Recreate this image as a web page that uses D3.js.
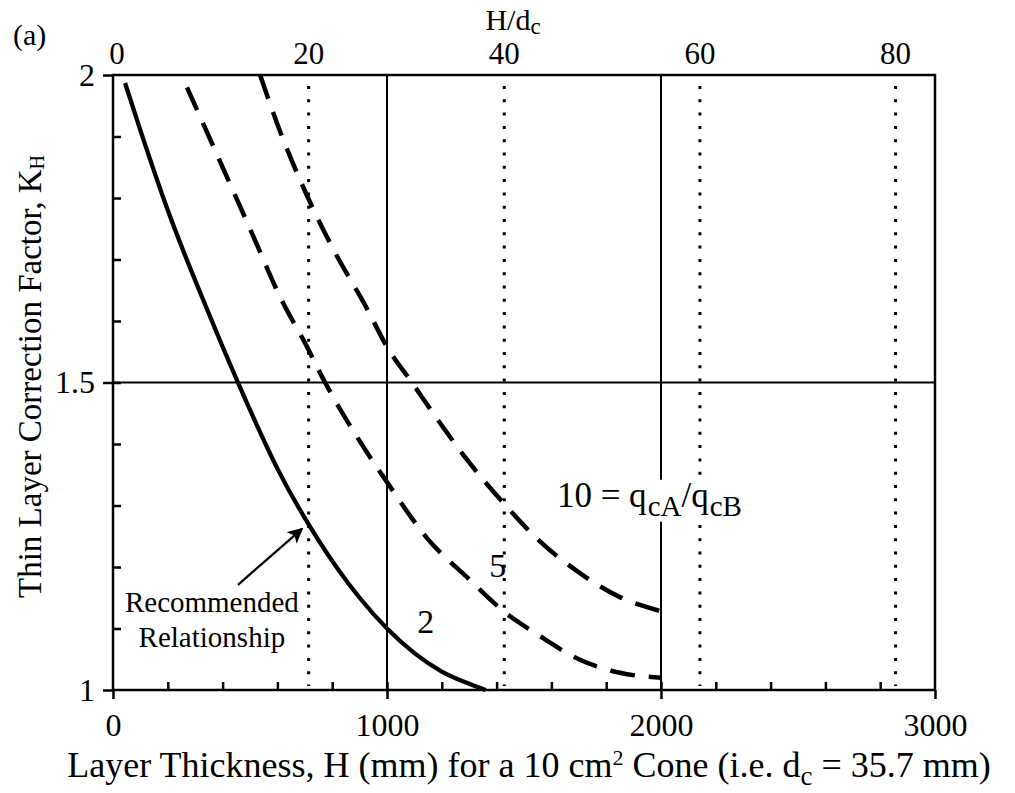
<!DOCTYPE html>
<html>
<head>
<meta charset="utf-8">
<script src="https://cdn.jsdelivr.net/npm/d3@7"></script>
<style>
	body { margin: 0; background: #fff; }
	text { font-family: "Liberation Serif", "Times New Roman", serif; fill: #000; }
</style>
</head>
<body>
<div id="chart-area"></div>
<script>
const MARGIN = { LEFT: 113, RIGHT: 80, TOP: 75, BOTTOM: 103 }
const WIDTH = 1015 - MARGIN.LEFT - MARGIN.RIGHT
const HEIGHT = 793 - MARGIN.TOP - MARGIN.BOTTOM

// curves: layer thickness H (mm) and K_H
const recH = [44, 100, 200, 347, 456, 600, 745, 900, 1000, 1100, 1200, 1300, 1360]
const recK = [1.987, 1.91, 1.78, 1.615, 1.5, 1.36, 1.247, 1.15, 1.1, 1.06, 1.03, 1.01, 1.0]
const ratio5H = [270, 400, 500, 620, 700, 774, 900, 1000, 1146, 1300, 1434, 1550, 1700, 1850, 2000]
const ratio5K = [1.98, 1.85, 1.75, 1.63, 1.565, 1.5, 1.405, 1.338, 1.247, 1.18, 1.125, 1.09, 1.05, 1.028, 1.02]
const ratio10H = [537, 600, 712, 800, 927, 1000, 1091, 1200, 1300, 1423, 1550, 1704, 1850, 2000]
const ratio10K = [2.0, 1.92, 1.8, 1.72, 1.62, 1.558, 1.5, 1.43, 1.37, 1.305, 1.245, 1.19, 1.151, 1.128]

// ticks
const xMajor = [0, 1000, 2000, 3000]
const yMajor = [1, 1.5, 2]
const yLabels = ["1", "1.5", "2"]
const topTicks = [0, 20, 40, 60, 80]
const DC = 35.7

// annotation positions (data units)
const labelRec = { H: 361, K: [1.127, 1.070], lines: ["Recommended", "Relationship"] }
const arrowFrom = [456, 1.171]
const arrowTo = [690, 1.262]
const label2 = [1110, 1.093]
const label5 = [1373, 1.184]
const label10 = [1620, 1.298]

const svg = d3.select("#chart-area").append("svg")
	.attr("width", 1015)
	.attr("height", 793)

const g = svg.append("g")
	.attr("transform", `translate(${MARGIN.LEFT}, ${MARGIN.TOP})`)

const x = d3.scaleLinear().domain([0, 3000]).range([0, WIDTH])
const y = d3.scaleLinear().domain([1, 2]).range([HEIGHT, 0])

// grid lines
g.selectAll(".vgrid").data([1000, 2000]).enter().append("line")
	.attr("x1", d => x(d)).attr("x2", d => x(d))
	.attr("y1", 0).attr("y2", HEIGHT)
	.attr("stroke", "#000").attr("stroke-width", 2)
g.append("line")
	.attr("x1", 0).attr("x2", WIDTH)
	.attr("y1", y(1.5)).attr("y2", y(1.5))
	.attr("stroke", "#000").attr("stroke-width", 2)

// dotted H/dc lines
g.selectAll(".dotted").data(topTicks.filter(d => d > 0)).enter().append("line")
	.attr("x1", d => x(d * DC)).attr("x2", d => x(d * DC))
	.attr("y1", 11).attr("y2", HEIGHT - 4)
	.attr("stroke", "#000").attr("stroke-width", 3)
	.attr("stroke-dasharray", "3,10.3")

// curves
const line = d3.line()
	.x(d => x(d[0]))
	.y(d => y(d[1]))
	.curve(d3.curveMonotoneX)

const zip = (a, b) => a.map((v, i) => [v, b[i]])

g.append("path")
	.attr("d", line(zip(recH, recK)))
	.attr("fill", "none").attr("stroke", "#000").attr("stroke-width", 4.3)
g.append("path")
	.attr("d", line(zip(ratio5H, ratio5K)))
	.attr("fill", "none").attr("stroke", "#000").attr("stroke-width", 4.5)
	.attr("stroke-dasharray", "25,14")
g.append("path")
	.attr("d", line(zip(ratio10H, ratio10K)))
	.attr("fill", "none").attr("stroke", "#000").attr("stroke-width", 4.5)
	.attr("stroke-dasharray", "25,14")

// frame
g.append("rect")
	.attr("width", WIDTH).attr("height", HEIGHT)
	.attr("fill", "none").attr("stroke", "#000").attr("stroke-width", 2.5)

// minor ticks (inside)
const xMinorAxis = d3.axisBottom(x).tickValues(d3.range(200, 3000, 200)).tickSize(-8).tickFormat("")
const yMinorAxis = d3.axisLeft(y).tickValues(d3.range(1.1, 1.95, 0.1)).tickSize(-8).tickFormat("")
g.append("g").attr("transform", `translate(0, ${HEIGHT})`).call(xMinorAxis)
g.append("g").call(yMinorAxis)

// major ticks (outside) with labels
const xAxisCall = d3.axisBottom(x).tickValues(xMajor).tickSize(9).tickPadding(14).tickFormat(d3.format("d"))
const yAxisCall = d3.axisLeft(y).tickValues(yMajor).tickSize(10).tickPadding(8).tickFormat((d, i) => yLabels[i])
const xAxis = g.append("g").attr("transform", `translate(0, ${HEIGHT})`).call(xAxisCall)
const yAxis = g.append("g").call(yAxisCall)

svg.selectAll(".domain").remove()
svg.selectAll(".tick line").attr("stroke", "#000").attr("stroke-width", 2.5)
xAxis.selectAll("text").style("font-size", "32px").attr("font-family", null)
yAxis.selectAll("text").style("font-size", "32px").attr("font-family", null)

// top H/dc labels
g.selectAll(".top-label").data(topTicks).enter().append("text")
	.attr("x", d => x(d * DC) + (d === 0 ? 4 : 0))
	.attr("y", -11)
	.attr("text-anchor", "middle")
	.style("font-size", "31px")
	.text(d => d)

const hdc = svg.append("text")
	.attr("x", 513).attr("y", 30)
	.attr("text-anchor", "middle")
	.style("font-size", "30px")
hdc.append("tspan").text("H/d")
hdc.append("tspan").attr("dy", 4).style("font-size", "23px").text("c")

svg.append("text")
	.attr("x", 13).attr("y", 45)
	.style("font-size", "30px")
	.text("(a)")

// x-axis title
const xTitle = svg.append("text")
	.attr("x", 529).attr("y", 777)
	.attr("text-anchor", "middle")
	.style("font-size", "36px")
xTitle.append("tspan").text("Layer Thickness, H (mm) for a 10 cm")
xTitle.append("tspan").attr("dy", -12).style("font-size", "22px").text("2")
xTitle.append("tspan").attr("dy", 12).text(" Cone (i.e. d")
xTitle.append("tspan").attr("dy", 8).style("font-size", "27px").text("c")
xTitle.append("tspan").attr("dy", -8).text(" = 35.7 mm)")

// y-axis title
const yTitle = svg.append("text")
	.attr("transform", `translate(41, ${MARGIN.TOP + HEIGHT / 2 - 6}) rotate(-90)`)
	.attr("text-anchor", "middle")
	.style("font-size", "33px")
yTitle.append("tspan").text("Thin Layer Correction Factor, K")
yTitle.append("tspan").attr("dy", 3).style("font-size", "20px").text("H")

// curve labels
g.append("text")
	.attr("x", x(label2[0])).attr("y", y(label2[1]))
	.style("font-size", "34px").text("2")
g.append("text")
	.attr("x", x(label5[0])).attr("y", y(label5[1]))
	.style("font-size", "34px").text("5")

const l10 = g.append("text")
	.attr("x", x(label10[0])).attr("y", y(label10[1]))
	.style("font-size", "35px")
l10.append("tspan").text("10 = q")
l10.append("tspan").attr("dx", 1).attr("dy", 9).style("font-size", "29px").text("cA")
l10.append("tspan").attr("dy", -9).text("/q")
l10.append("tspan").attr("dx", 1).attr("dy", 9).style("font-size", "29px").text("cB")
const bb = l10.node().getBBox()
g.insert("rect", () => l10.node())
	.attr("x", bb.x - 2).attr("y", bb.y + 4)
	.attr("width", bb.width + 4).attr("height", bb.height - 4)
	.attr("fill", "#fff")

g.selectAll(".rec-label").data(labelRec.lines).enter().append("text")
	.attr("x", x(labelRec.H))
	.attr("y", (d, i) => y(labelRec.K[i]))
	.attr("text-anchor", "middle")
	.style("font-size", "29px")
	.text(d => d)

// arrow
svg.append("defs").append("marker")
	.attr("id", "head")
	.attr("viewBox", "0 0 10 10")
	.attr("refX", 9).attr("refY", 5)
	.attr("markerWidth", 7).attr("markerHeight", 7)
	.attr("markerUnits", "strokeWidth")
	.attr("orient", "auto")
	.append("path").attr("d", "M0,0 L10,5 L0,10 L2.5,5 Z").attr("fill", "#000")

g.append("line")
	.attr("x1", x(arrowFrom[0])).attr("y1", y(arrowFrom[1]))
	.attr("x2", x(arrowTo[0])).attr("y2", y(arrowTo[1]))
	.attr("stroke", "#000").attr("stroke-width", 2.2)
	.attr("marker-end", "url(#head)")
</script>
</body>
</html>
